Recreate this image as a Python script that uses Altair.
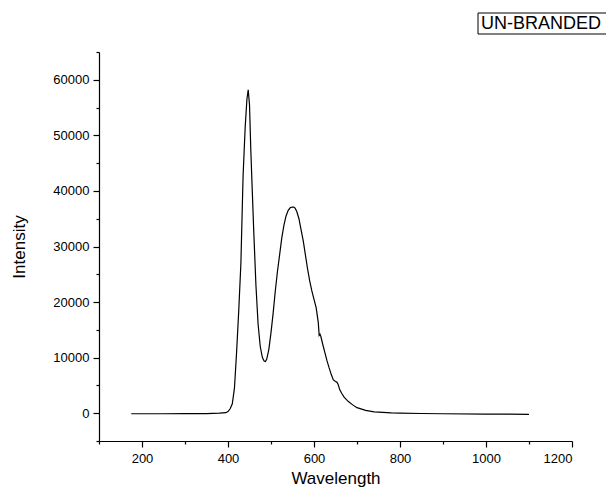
import altair as alt
import pandas as pd

wavelength = [175, 200, 250, 300, 350, 380, 395, 400, 405, 410, 415, 420, 425, 430,
              435, 438, 440, 444, 447, 450, 453, 456, 460, 465, 470, 475, 480, 484,
              487, 490, 495, 500, 505, 510, 515, 520, 525, 530, 535, 540, 545, 550,
              553, 556, 560, 565, 570, 575, 580, 585, 590, 595, 600, 605, 610, 612,
              614, 616, 620, 625, 630, 635, 640, 645, 650, 653, 656, 660, 665, 670,
              680, 690, 700, 720, 740, 760, 780, 800, 850, 900, 1000, 1100]
intensity = [-100, -100, -100, -90, -60, 0, 100, 300, 800, 1700, 4500, 11000, 18500, 27000,
             42500, 48000, 51500, 56500, 58200, 55500, 47500, 41000, 32500, 23000, 16000, 12000, 10000, 9400,
             9300, 9700, 11500, 14500, 18000, 22000, 25500, 28500, 31500, 33800, 35500, 36500, 37000, 37100,
             37100, 36900, 36300, 35000, 33000, 31000, 28500, 26000, 23800, 22000, 20500, 19000, 16300, 14000,
             14200, 13800, 12500, 11000, 9500, 8200, 7000, 6000, 5700, 5600, 5200, 4200, 3500, 2900,
             2100, 1500, 1000, 500, 250, 150, 50, 0, -50, -100, -150, -200]

x_ticks = list(range(100, 1201, 100))
y_ticks = list(range(-5000, 65001, 5000))
label_text = ["UN-BRANDED"]

df = pd.DataFrame({"Wavelength": wavelength, "Intensity": intensity})

line = alt.Chart(df).mark_line(color="black", strokeWidth=1.2).encode(
    x=alt.X("Wavelength:Q",
            scale=alt.Scale(domain=[100, 1200], nice=False, zero=False),
            axis=alt.Axis(values=x_ticks, title="Wavelength", grid=False,
                          labelExpr="datum.value % 200 === 0 ? datum.label : ''",
                          labelOverlap=False, format="d",
                          tickSize={"condition": {"test": "datum.value % 200 === 0", "value": 6}, "value": 3},
                          labelPadding=5, titlePadding=5)),
    y=alt.Y("Intensity:Q",
            scale=alt.Scale(domain=[-5000, 65000], nice=False, zero=False),
            axis=alt.Axis(values=y_ticks, title="Intensity", grid=False,
                          labelExpr="datum.value % 10000 === 0 ? datum.label : ''",
                          labelOverlap=False, format="d",
                          tickSize={"condition": {"test": "datum.value % 10000 === 0", "value": 6}, "value": 3},
                          labelPadding=4, titlePadding=24)),
)

tdf = pd.DataFrame({"t": label_text})
box = alt.Chart(tdf).mark_rect(fill="white", stroke="black", strokeWidth=1).encode(
    x=alt.value(379), x2=alt.value(511), y=alt.value(-39), y2=alt.value(-18))
txt = alt.Chart(tdf).mark_text(align="left", baseline="middle", fontSize=18,
                               font="Liberation Sans", color="black").encode(
    x=alt.value(382), y=alt.value(-28), text="t:N")

chart = alt.layer(line, box, txt).properties(
    width=473, height=389,
    autosize=alt.AutoSizeParams(type="none"),
    padding={"left": 91, "top": 44, "right": 34, "bottom": 47},
).configure(font="Liberation Sans").configure_axis(
    domainColor="black", tickColor="black", labelColor="black", titleColor="black",
    labelFontSize=13, titleFontSize=17, titleFontWeight="normal", domainWidth=1.2, tickWidth=1.2,
    labelFont="Liberation Sans", titleFont="Liberation Sans",
).configure_view(stroke=None)

chart.save("out.html", embed_options={"renderer": "svg", "actions": False})
